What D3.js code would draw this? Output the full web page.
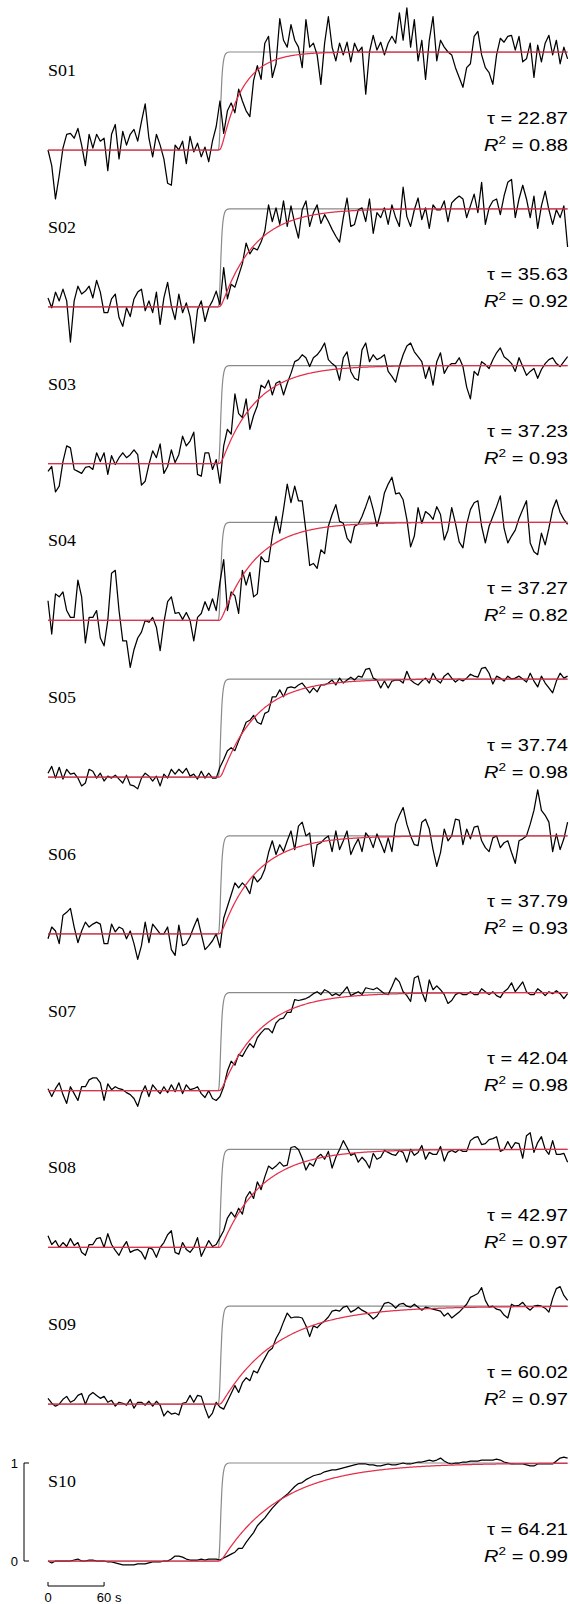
<!DOCTYPE html>
<html>
<head>
<meta charset="utf-8">
<style>
  body { margin: 0; background: #fff; }
  svg { display: block; }
  .input { fill: none; stroke: #8a8a8a; stroke-width: 1.2; }
  .trace { fill: none; stroke: #000; stroke-width: 1.25; stroke-linejoin: round; }
  .fit { fill: none; stroke: #e62e48; stroke-width: 1.25; }
  .lbl { font-family: "Liberation Serif", "Times New Roman", serif; font-size: 16px; }
  .stat { font-family: "Liberation Sans", Arial, sans-serif; font-size: 17px; }
  .bar text { font-family: "Liberation Sans", Arial, sans-serif; font-size: 13px; }
  .bar path { fill: none; stroke: #000; stroke-width: 1; }
</style>
</head>
<body>
<svg width="570" height="1604"></svg>
<script src="https://d3js.org/d3.v7.min.js"></script>
<script>

// subjects and fit results
var subjects = ["S01", "S02", "S03", "S04", "S05", "S06", "S07", "S08", "S09", "S10"];
var taus = [22.87, 35.63, 37.23, 37.27, 37.74, 37.79, 42.04, 42.97, 60.02, 64.21];
var r2s = [0.88, 0.92, 0.93, 0.82, 0.98, 0.93, 0.98, 0.97, 0.97, 0.99];

// normalised response, % of steady state, one sample every 4 s
var sampleStep = 4;
var tEnd = 556;

// input step (grey)
var stepTimes = [0, 182, 183, 184, 185, 186, 187, 188, 189, 191, 194, 556];
var stepValues = [0, 0, 0.04, 0.22, 0.5, 0.72, 0.85, 0.92, 0.96, 0.99, 1, 1];

var s01 = [0,-16,-50,-26,2,16,17,12,22,5, -16,16,2,16,9,12,-21,16,26,-9,
  19,5,16,21,9,29,47,12,-7,16, 5,-9,-34,-36,5,0,9,-14,14,-2,
  7,-7,3,-12,9,24,50,17,40,48, 38,62,50,40,34,71,86,72,109,116,
  74,88,134,112,105,128,112,105,84,133, 105,109,97,67,109,136,105,91,109,97,
  110,90,109,100,105,57,100,117,102,110, 97,109,116,109,140,112,145,105,133,91,
  112,72,112,136,91,112,105,100,97,84, 74,64,84,88,116,121,97,84,79,67,
  97,114,110,116,117,102,116,90,93,109, 74,107,90,109,117,97,112,88,105,93];
var s02 = [9,-1,15,6,18,6,-36,6,21,13, 16,21,9,27,15,-6,-6,8,13,-11,
  -20,-1,-10,8,15,18,-4,6,-6,15, -18,9,25,1,-13,13,-6,4,-10,-37,
  -3,6,-15,-1,6,16,2,40,8,23, 20,32,44,65,54,60,58,66,77,104,
  87,101,84,108,82,103,85,70,99,108, 82,96,104,85,94,87,79,72,66,91,
  111,82,84,99,101,87,110,75,96,91, 101,84,104,91,82,122,92,82,99,111,
  89,101,80,104,99,99,108,87,106,110, 113,110,91,103,115,96,127,84,101,108,
  110,94,113,127,130,91,110,124,110,91, 113,80,103,118,99,84,99,91,103,61];
var s03 = [-8,-3,-29,-23,2,18,16,-6,-8,-10, -4,-3,-6,11,2,11,-11,8,-1,6,
  11,6,9,14,9,-22,-18,-1,13,6, 20,-10,-3,14,1,9,28,18,23,32,
  -11,-13,11,11,-6,4,-20,18,35,30, 71,51,47,66,35,49,59,80,77,85,
  70,82,84,70,82,92,104,106,111,108, 99,108,111,116,123,106,102,99,85,108,
  114,94,87,85,116,123,104,111,106,108, 111,94,89,83,99,111,120,123,114,109,
  104,87,99,80,104,113,92,99,102,102, 108,99,78,66,94,90,104,101,97,106,
  113,118,109,106,102,94,108,99,90,94, 97,87,96,102,106,108,102,99,104,109];
var s04 = [20,-14,27,24,29,10,3,3,41,24, -23,3,3,10,-18,-26,0,48,51,10,
  -21,-21,-48,-30,-18,-12,0,-2,3,-7, -31,-2,19,24,7,8,1,8,0,-21,
  3,7,19,10,22,10,39,62,10,29, 25,7,51,36,49,24,27,65,60,60,
  86,106,89,113,139,120,137,122,122,91, 56,58,53,72,68,96,108,118,101,99,
  84,79,96,98,106,116,127,113,96,110, 130,139,146,129,130,123,103,75,86,115,
  99,111,108,103,116,108,82,92,115,99, 80,74,98,113,120,122,96,79,96,106,
  116,127,94,79,86,92,104,113,122,79, 70,67,89,77,94,113,123,110,103,98];
var s05 = [4,11,-1,10,-2,8,3,4,-1,-9, -6,8,6,-1,4,-4,1,-1,2,-2,
  -6,2,-8,-9,-12,-1,4,1,-4,1, -9,3,-1,8,3,8,4,9,1,3,
  -2,6,-1,4,-1,-1,10,18,27,30, 27,37,46,56,58,63,56,54,65,67,
  82,82,89,82,91,92,91,94,96,91, 86,91,87,94,94,96,99,94,101,96,
  99,102,99,103,102,110,111,101,99,91, 98,91,98,99,99,96,108,99,96,94,
  98,101,96,106,99,96,103,106,101,97, 100,98,101,105,103,102,111,112,106,95,
  103,101,98,103,100,101,103,100,97,106, 98,92,103,96,91,86,98,106,101,103];
var s06 = [-5,7,3,-10,19,22,26,7,-9,3, 12,7,10,12,10,-10,-10,10,2,7,
  5,-5,3,-10,-26,-12,12,-9,10,5, 0,0,7,-16,-22,9,-12,-10,-3,7,
  16,0,-16,-12,-7,0,-14,16,28,40, 52,47,52,48,41,59,53,57,66,83,
  95,81,91,84,95,105,86,110,114,100, 103,69,91,93,97,100,84,105,86,95,
  105,81,90,97,84,103,98,88,102,93, 83,98,84,112,121,129,112,100,91,90,
  114,117,107,86,69,83,107,95,100,117, 116,91,107,97,109,110,95,88,84,98,
  100,88,93,95,83,72,95,97,100,112, 126,147,126,121,114,84,102,86,97,114];
var s07 = [2,-6,2,8,-4,-13,4,-3,-10,4, 4,11,13,13,8,-10,7,1,4,2,
  1,-2,-4,-8,-16,-3,5,-6,6,1, -3,4,-2,6,-1,8,-3,6,1,2,
  4,-3,-7,0,-8,-10,-6,4,20,30, 26,37,35,42,48,44,54,59,63,63,
  59,69,73,74,80,80,93,92,93,94, 96,99,101,98,103,101,97,99,97,101,
  106,97,99,101,98,105,104,103,105,102, 99,98,106,115,111,101,97,91,115,117,
  101,91,113,103,107,103,98,89,92,98, 100,98,98,101,98,98,104,101,98,101,
  97,95,101,104,110,101,106,111,101,98, 98,104,101,97,101,99,102,99,94,99];
var s08 = [12,3,7,0,5,1,9,2,5,-5, -8,3,3,9,10,0,14,3,-3,-8,
  0,6,-5,-3,-2,-5,-12,0,-2,-10, 0,5,13,17,-5,-7,5,-2,-5,0,
  10,-9,-1,7,1,3,10,17,30,36, 31,40,34,51,57,50,67,59,72,83,
  80,83,87,83,84,102,103,100,91,79, 86,83,92,95,90,98,81,92,100,109,
  102,94,96,87,92,88,81,96,90,92, 99,97,95,94,99,97,87,100,94,97,
  104,90,97,95,95,103,88,97,99,97, 100,98,98,109,112,113,105,106,110,111,
  113,98,100,108,101,107,106,91,114,117, 97,107,113,100,95,109,95,95,96,87];
var s09 = [6,1,-2,0,5,8,2,4,9,11, 0,9,12,9,6,8,2,4,-2,2,
  1,-1,5,-4,2,2,-1,3,-2,3, -1,-12,-7,-10,-9,-11,1,2,9,2,
  9,8,-4,-14,-9,2,-3,-5,3,11, 19,12,22,27,24,34,32,40,47,54,
  57,67,74,84,93,88,89,89,88,80, 69,80,78,82,85,89,95,96,95,99,
  100,94,96,99,96,94,91,87,90,96, 103,104,102,98,102,103,100,99,102,99,
  96,99,98,97,96,95,90,93,88,91, 94,98,102,109,111,113,119,106,99,100,
  97,96,91,88,102,100,101,104,99,96, 100,101,100,98,94,108,118,120,111,106];
var s10 = [0,-2,0,0,0,0,0,1,2,0, 0,1,1,0,0,0,-1,-1,-2,-3,
  -4,-4,-4,-4,-3,-3,-3,-2,-1,-1, -1,0,0,2,5,5,4,2,1,1,
  1,2,1,2,2,2,1,3,5,7, 9,13,13,19,24,29,36,40,44,49,
  54,58,62,65,68,72,76,79,80,83, 85,87,88,89,91,92,93,93,94,95,
  96,97,98,99,99,99,98,98,97,97, 98,99,98,98,99,100,99,99,100,101,
  101,102,103,102,103,105,102,100,99,100, 100,101,101,102,102,102,103,103,103,103,
  104,103,101,100,99,99,99,99,98,97, 97,99,99,99,99,99,102,105,106,105];

var traces = [s01, s02, s03, s04, s05, s06, s07, s08, s09, s10];

var svg = d3.select("svg");

var x = d3.scaleLinear().domain([0, tEnd]).range([48, 567.6]);
var panelBase = d3.scaleLinear().domain([0, subjects.length - 1]).range([150, 1561]);
var unitHeight = 98;

// input as a function of time (piecewise linear through the read points)
var inputAt = d3.scaleLinear().domain(stepTimes).range(stepValues).clamp(true);

// first order model driven by the input, time constant tau
function fitCurve(tau) {
  var out = [], yv = 0, dt = 0.1;
  for (var i = 0; i <= tEnd * 10; i++) {
    var t = i * dt;
    if (i % 10 == 0) out.push({t: t, v: yv});
    yv += dt / tau * (inputAt(t) - yv);
  }
  return out;
}

subjects.forEach(function(name, i) {
  var base = panelBase(i);
  var y = d3.scaleLinear().domain([0, 1]).range([base, base - unitHeight]);
  var line = d3.line().x(function(d) { return x(d.t); }).y(function(d) { return y(d.v); });

  var g = svg.append("g").attr("class", "panel");

  var inputPts = stepTimes.map(function(t, j) { return {t: t, v: stepValues[j]}; });
  g.append("path").attr("class", "input")
    .attr("d", line.curve(d3.curveMonotoneX)(inputPts));

  var pts = traces[i].map(function(v, j) { return {t: j * sampleStep, v: v / 100}; });
  g.append("path").attr("class", "trace")
    .attr("d", line.curve(d3.curveLinear)(pts));

  g.append("path").attr("class", "fit")
    .attr("d", line.curve(d3.curveLinear)(fitCurve(taus[i])));

  g.append("text").attr("class", "lbl")
    .attr("transform", "translate(" + x(0) + "," + (base - 74) + ") scale(1.12,1)")
    .text(name);

  g.append("text").attr("class", "stat")
    .attr("text-anchor", "end")
    .attr("transform", "translate(568," + (base - 26.5) + ") scale(1.18,1)")
    .text("\u03c4 = " + taus[i].toFixed(2));

  var r = g.append("text").attr("class", "stat")
    .attr("text-anchor", "end")
    .attr("transform", "translate(568," + (base + 0.5) + ") scale(1.18,1)");
  r.append("tspan").attr("font-style", "italic").text("R");
  r.append("tspan").attr("font-size", 11.5).attr("dy", -7).text("2");
  r.append("tspan").attr("dy", 7).text(" = " + r2s[i].toFixed(2));
});

// scale bars, drawn with the last panel's scales
var lastBase = panelBase(subjects.length - 1);
var yLast = d3.scaleLinear().domain([0, 1]).range([lastBase, lastBase - unitHeight]);
var bar = svg.append("g").attr("class", "bar");

bar.append("path")
  .attr("d", "M29," + yLast(1) + "H24V" + yLast(0) + "H29");
bar.append("text").attr("x", 18).attr("y", yLast(1) + 4.5).attr("text-anchor", "end").text("1");
bar.append("text").attr("x", 18).attr("y", yLast(0) + 4.5).attr("text-anchor", "end").text("0");

var barY = 1586;
bar.append("path")
  .attr("d", "M" + x(0) + "," + (barY - 4) + "V" + barY + "H" + x(60) + "V" + (barY - 4));
bar.append("text").attr("x", x(0)).attr("y", 1602).attr("text-anchor", "middle").text("0");
bar.append("text").attr("x", x(60) - 7.2).attr("y", 1602).text("60 s");

</script>
</body>
</html>
